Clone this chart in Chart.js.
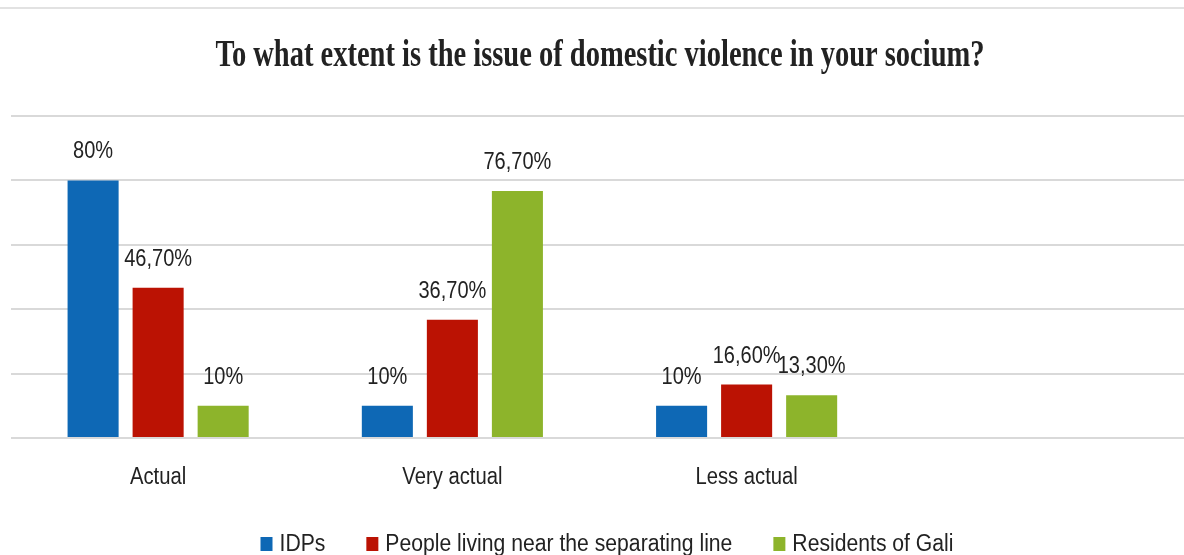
<!DOCTYPE html>
<html>
<head>
<meta charset="utf-8">
<script src="https://cdn.jsdelivr.net/npm/chart.js@4"></script>
<style>
    html, body { margin: 0; padding: 0; background: #fff; overflow: hidden; }
    #wrap { position: relative; width: 1188px; height: 555px; }
</style>
</head>
<body>
<div id="wrap"><canvas id="chart"></canvas></div>
<script>
// --- Data ---
const categories = ['Actual', 'Very actual', 'Less actual', ''];
const seriesNames = ['IDPs', 'People living near the separating line', 'Residents of Gali'];
const idps = [80, 10, 10, null];
const nearLine = [46.7, 36.7, 16.6, null];
const gali = [10, 76.7, 13.3, null];
const yTicks = [0, 20, 40, 60, 80, 100];
const colors = ['#0E68B5', '#BB1203', '#8DB42B'];
const titleText = 'To what extent is the issue of domestic violence in your socium?';

const SANS = '"Liberation Sans", Arial, sans-serif';
const SERIF = '"Liberation Serif", "Times New Roman", serif';
const TEXT_COLOR = '#222222';

function formatPct(v) {
    if (Number.isInteger(v)) {
        return v + '%';
    }
    return v.toFixed(2).replace('.', ',') + '%';
}

// the original text is a narrow face, so squeeze the glyphs horizontally
function squeezeText(ctx, text, x, y, ratio) {
    const w = ctx.measureText(text).width;
    ctx.fillText(text, x, y, w * ratio);
}

// Title, category names, value labels and legend, drawn on the canvas
const textLayer = {
    id: 'textLayer',
    beforeDraw(chart) {
        const ctx = chart.ctx;
        ctx.save();
        ctx.strokeStyle = '#d9d9d9';
        ctx.lineWidth = 1.5;
        ctx.beginPath();
        ctx.moveTo(0, 8);
        ctx.lineTo(chart.width, 8);
        ctx.stroke();
        ctx.restore();
    },
    afterDatasetsDraw(chart) {
        const ctx = chart.ctx;
        const xScale = chart.scales.x;
        ctx.save();
        ctx.fillStyle = TEXT_COLOR;
        ctx.textBaseline = 'alphabetic';

        // title
        ctx.textAlign = 'center';
        ctx.font = 'bold 37px ' + SERIF;
        ctx.fillText(titleText, 600, 66, 769);

        // value labels
        ctx.font = '23px ' + SANS;
        chart.data.datasets.forEach((ds, i) => {
            chart.getDatasetMeta(i).data.forEach((bar, j) => {
                const v = ds.data[j];
                if (v === null || v === undefined) {
                    return;
                }
                squeezeText(ctx, formatPct(v), bar.x, bar.y - 22, 0.87);
            });
        });

        // category labels
        categories.forEach((name, i) => {
            if (name) {
                squeezeText(ctx, name, xScale.getPixelForValue(i), 484, 0.88);
            }
        });

        // legend
        const ratio = 0.92;
        const widths = seriesNames.map(n => ctx.measureText(n).width * ratio);
        const boxW = 12, boxH = 14, boxGap = 7, itemGap = 41;
        const total = widths.reduce((a, w) => a + boxW + boxGap + w, 0) + itemGap * (widths.length - 1);
        let x = 607 - total / 2;
        ctx.textAlign = 'left';
        seriesNames.forEach((name, i) => {
            ctx.fillStyle = colors[i];
            ctx.fillRect(x, 537, boxW, boxH);
            ctx.fillStyle = TEXT_COLOR;
            ctx.fillText(name, x + boxW + boxGap, 551, widths[i]);
            x += boxW + boxGap + widths[i] + itemGap;
        });
        ctx.restore();
    }
};

const ctx = document.getElementById('chart').getContext('2d');
new Chart(ctx, {
    type: 'bar',
    data: {
        labels: categories,
        datasets: [
            { label: seriesNames[0], data: idps, backgroundColor: colors[0] },
            { label: seriesNames[1], data: nearLine, backgroundColor: colors[1] },
            { label: seriesNames[2], data: gali, backgroundColor: colors[2] }
        ]
    },
    options: {
        responsive: true,
        maintainAspectRatio: false,
        animation: false,
        layout: { padding: { left: 11, right: 0, top: 116, bottom: 117 } },
        datasets: {
            bar: { categoryPercentage: 0.663, barPercentage: 0.785 }
        },
        scales: {
            x: {
                grid: { display: false, drawTicks: false },
                border: { display: false },
                ticks: { display: false }
            },
            y: {
                min: 0,
                max: 100,
                afterBuildTicks(scale) {
                    scale.ticks = yTicks.map(v => ({ value: v }));
                },
                grid: { color: '#d9d9d9', lineWidth: 2, drawTicks: false },
                border: { display: false },
                ticks: { display: false }
            }
        },
        plugins: {
            title: { display: false },
            legend: { display: false },
            tooltip: { enabled: false }
        }
    },
    plugins: [textLayer]
});
</script>
</body>
</html>
